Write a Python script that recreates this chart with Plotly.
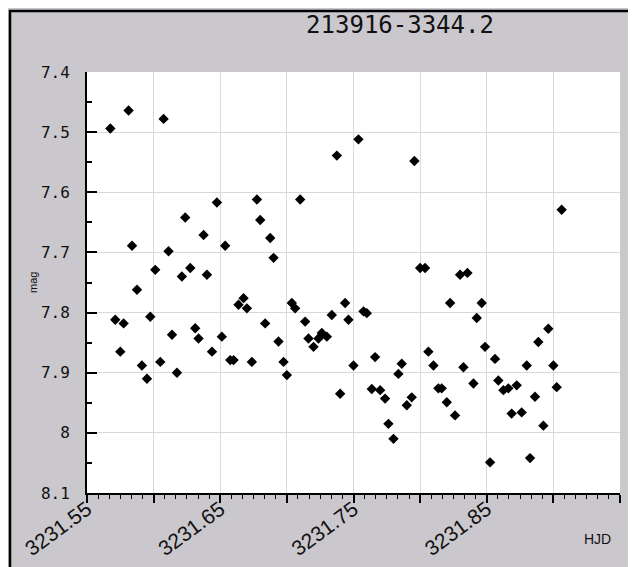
import plotly.graph_objects as go

# ---- data ----
hjd = [3231.5675, 3231.5712, 3231.5750, 3231.5775, 3231.5812, 3231.5838, 3231.5875, 3231.5912,
       3231.5950, 3231.5975, 3231.6012, 3231.6050, 3231.6075, 3231.6112, 3231.6138, 3231.6175,
       3231.6212, 3231.6237, 3231.6275, 3231.6312, 3231.6337, 3231.6375, 3231.6400, 3231.6438,
       3231.6475, 3231.6512, 3231.6537, 3231.6575, 3231.6600, 3231.6637, 3231.6675, 3231.6700,
       3231.6737, 3231.6775, 3231.6800, 3231.6837, 3231.6875, 3231.6900, 3231.6937, 3231.6975,
       3231.7000, 3231.7037, 3231.7062, 3231.7100, 3231.7137, 3231.7162, 3231.7200, 3231.7237,
       3231.7262, 3231.7300, 3231.7337, 3231.7375, 3231.7400, 3231.7437, 3231.7462, 3231.7500,
       3231.7537, 3231.7575, 3231.7600, 3231.7637, 3231.7662, 3231.7700, 3231.7737, 3231.7762,
       3231.7800, 3231.7837, 3231.7862, 3231.7900, 3231.7937, 3231.7957, 3231.8000, 3231.8037,
       3231.8062, 3231.8100, 3231.8137, 3231.8162, 3231.8200, 3231.8225, 3231.8262, 3231.8300,
       3231.8325, 3231.8355, 3231.8400, 3231.8425, 3231.8462, 3231.8487, 3231.8525, 3231.8562,
       3231.8587, 3231.8625, 3231.8662, 3231.8687, 3231.8725, 3231.8762, 3231.8800, 3231.8825,
       3231.8862, 3231.8887, 3231.8925, 3231.8962, 3231.9000, 3231.9025, 3231.9062]
mag = [7.494, 7.812, 7.865, 7.818, 7.464, 7.689, 7.762, 7.888,
       7.910, 7.807, 7.729, 7.882, 7.478, 7.698, 7.837, 7.900,
       7.740, 7.642, 7.726, 7.826, 7.843, 7.671, 7.737, 7.865,
       7.617, 7.840, 7.689, 7.879, 7.879, 7.787, 7.776, 7.793,
       7.882, 7.612, 7.646, 7.818, 7.676, 7.709, 7.848, 7.882,
       7.904, 7.784, 7.793, 7.612, 7.815, 7.843, 7.857, 7.843,
       7.834, 7.840, 7.804, 7.539, 7.935, 7.784, 7.812, 7.888,
       7.512, 7.798, 7.801, 7.927, 7.874, 7.929, 7.943, 7.985,
       8.010, 7.902, 7.885, 7.954, 7.941, 7.548, 7.726, 7.726,
       7.865, 7.888, 7.926, 7.926, 7.949, 7.784, 7.971, 7.737,
       7.891, 7.734, 7.918, 7.809, 7.784, 7.857, 8.049, 7.877,
       7.913, 7.929, 7.926, 7.968, 7.921, 7.966, 7.888, 8.042,
       7.940, 7.849, 7.988, 7.827, 7.888, 7.924, 7.629]

x_tickvals = [3231.55, 3231.60, 3231.65, 3231.70, 3231.75, 3231.80, 3231.85, 3231.90, 3231.95]
x_ticktext = ["3231.55", "", "3231.65", "", "3231.75", "", "3231.85", "", ""]
y_tickvals = [7.4, 7.5, 7.6, 7.7, 7.8, 7.9, 8.0, 8.1]
y_ticktext = ["7.4", "7.5", "7.6", "7.7", "7.8", "7.9", "8", "8.1"]
title_text = "213916-3344.2"
x_title = "HJD"
y_title = "mag"

# ---- geometry (page body adds an 8px margin, so the figure is offset by 8px) ----
OFF = 8
W, H = 636 - OFF, 567 - OFF
ML, MT = 87 - OFF, 72 - OFF
MR = W - (620 - OFF)
MB = H - (493 - OFF)
PW, PH = W - ML - MR, H - MT - MB


def px(x):
    """reference screen x -> paper x"""
    return (x - OFF - ML) / PW


def py(y):
    """reference screen y -> paper y"""
    return (H - MB - (y - OFF)) / PH


GRAY = "#cbc8cd"

fig = go.Figure()
fig.add_trace(go.Scatter(
    x=hjd, y=mag, mode="markers",
    marker=dict(symbol="diamond", size=8, color="black"),
    hoverinfo="x+y", showlegend=False,
))

shapes = [
    dict(type="line", xref="paper", yref="paper", x0=px(10), x1=px(10), y0=py(567), y1=py(10),
         line=dict(color="black", width=2.5)),
    dict(type="line", xref="paper", yref="paper", x0=px(9), x1=px(636), y0=py(11), y1=py(11),
         line=dict(color="black", width=2.5)),
]

fig.update_layout(
    width=W, height=H, autosize=False,
    margin=dict(l=ML, r=MR, t=MT, b=MB, pad=0, autoexpand=False),
    paper_bgcolor=GRAY, plot_bgcolor="white",
    shapes=shapes,
    title=dict(text=title_text, x=(400 - OFF) / W, xanchor="center",
               y=1 - (25 - OFF) / H, yanchor="middle", automargin=False,
               font=dict(family="DejaVu Sans Mono", size=24, color="#111")),
    xaxis=dict(
        range=[3231.55, 3231.95], tickmode="array", tickvals=x_tickvals, ticktext=x_ticktext,
        tickangle=-36, tickfont=dict(family="Liberation Sans", size=21, color="#111"),
        ticks="outside", ticklen=8, tickwidth=1.5, tickcolor="black", ticklabelstandoff=-14,
        showline=True, linecolor="black", linewidth=2, automargin=False,
        showgrid=True, gridcolor="#d9d9d9", gridwidth=1, zeroline=False,
        minor=dict(ticks="outside", ticklen=4, tickwidth=1, tickcolor="black",
                   tick0=3231.55, dtick=0.05 / 6, showgrid=False),
    ),
    yaxis=dict(
        range=[8.1, 7.4], tickmode="array", tickvals=y_tickvals, ticktext=y_ticktext,
        tickfont=dict(family="DejaVu Sans Mono", size=16, color="#111"),
        ticks="inside", ticklen=10, tickwidth=2, tickcolor="black", ticklabelstandoff=12,
        showline=True, linecolor="black", linewidth=2, automargin=False,
        showgrid=True, gridcolor="#d9d9d9", gridwidth=1, zeroline=False,
        minor=dict(ticks="inside", ticklen=5, tickwidth=2, tickcolor="black",
                   tick0=7.4, dtick=0.05, showgrid=False),
    ),
    annotations=[
        dict(text=y_title, xref="paper", yref="paper", x=px(33), y=py(283),
             xanchor="center", yanchor="middle", textangle=-90, showarrow=False,
             font=dict(family="Liberation Sans", size=11, color="#111")),
        dict(text=x_title, xref="paper", yref="paper", x=px(597), y=py(539),
             xanchor="center", yanchor="middle", showarrow=False,
             font=dict(family="Liberation Sans", size=14, color="#111")),
    ],
)

fig.write_html("out.html")
